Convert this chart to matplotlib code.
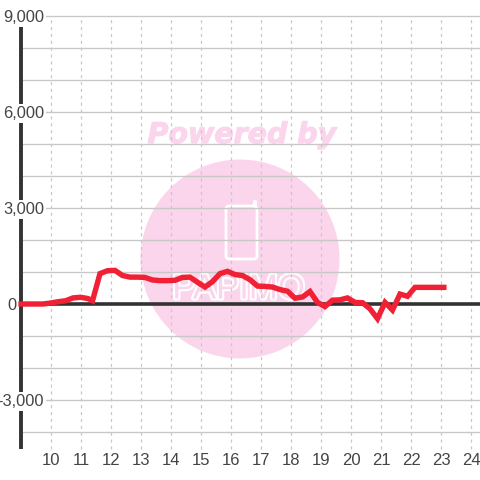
import numpy as np
import matplotlib
matplotlib.use("Agg")
import matplotlib.pyplot as plt
import matplotlib.patheffects as pe
from matplotlib.patches import Circle, FancyBboxPatch

# hours and values
hours = [8.93, 9.5, 9.75, 10.0, 10.25, 10.5, 10.75, 11.0, 11.25, 11.4, 11.65, 11.9, 12.15, 12.4, 12.65, 12.9,
         13.15, 13.4, 13.65, 13.9, 14.15, 14.4, 14.65, 14.9, 15.15, 15.4, 15.65, 15.9, 16.15, 16.4, 16.65, 16.9,
         17.15, 17.4, 17.65, 17.9, 18.15, 18.4, 18.65, 18.9, 19.15, 19.4, 19.65, 19.9, 20.15, 20.4, 20.65, 20.9,
         21.15, 21.4, 21.65, 21.9, 22.15, 22.4, 22.65, 22.9, 23.2]
values = [0, 0, 0, 30, 70, 100, 190, 210, 170, 100, 950, 1040, 1050, 890, 840, 840,
          830, 750, 730, 730, 740, 830, 840, 680, 530, 700, 950, 1020, 920, 890, 760, 560,
          550, 530, 450, 400, 180, 220, 390, 50, -80, 120, 130, 190, 50, 40, -150, -460,
          50, -190, 310, 240, 520, 520, 520, 520, 520]
ylabel_vals = [-3000, 3000, 6000, 9000]
ylabels = ["-3,000", "3,000", "6,000", "9,000"]
xticks = list(range(10, 25))

text_col = "#444444"
grid_col = "#c8c8c8"
axis_col = "#333333"
wm = "#fbd5ec"

fig = plt.figure(figsize=(4.8, 4.8), dpi=100)

# watermark sits under the chart, in pixel coords
wm_ax = fig.add_axes([0, 0, 1, 1], zorder=0)
wm_ax.set_xlim(0, 480)
wm_ax.set_ylim(480, 0)
wm_ax.axis("off")
wm_ax.add_patch(Circle((240, 259), 99.5, fc=wm, ec="none"))
wm_ax.add_patch(FancyBboxPatch((229, 209), 25, 47, boxstyle="round,pad=3", fc="none", ec="white", lw=2))
wm_ax.plot([254.5, 254.5], [207, 202], color="white", lw=3, solid_capstyle="round")
wm_ax.text(242, 135, "Powered by", color=wm, fontsize=20.5, fontweight="bold", fontstyle="italic",
           family="DejaVu Sans", ha="center", va="center",
           path_effects=[pe.withStroke(linewidth=0.8, foreground=wm)])
wm_ax.text(238.5, 289, "PAPIMO", color=wm, fontsize=25, family="Liberation Sans", ha="center", va="center",
           path_effects=[pe.withStroke(linewidth=3, foreground="white")])

ax = fig.add_axes([0, 0, 1, 1], zorder=1)
ax.patch.set_visible(False)
# x 10 -> 50.5px, 30px per hour; y 0 -> 304px, 32px per 1000
ax.set_xlim(10 - 50.5 / 30, 10 + (480 - 50.5) / 30)
ax.set_ylim(-(480 - 304) / 32 * 1000, 304 / 32 * 1000)
ax.axis("off")
xmax = ax.get_xlim()[1]
xleft = 9.0
ybot = -4530
xlab = 9.78   # right edge of the y labels
nudge = -50   # labels sit a touch under their gridline

# grid
for v in np.arange(-4000, 10000, 1000):
    ax.plot([xleft, xmax], [v, v], color=grid_col, lw=1, zorder=2)
for h in xticks:
    ax.plot([h, h], [ybot, 9000], color=grid_col, lw=0.9, ls=(0, (2.5, 3)), zorder=2)

# axes
ax.plot([xleft, xleft], [ybot, 9000], color=axis_col, lw=2.8, solid_capstyle="butt", zorder=3)
ax.plot([xleft, xmax], [0, 0], color=axis_col, lw=2.6, solid_capstyle="butt", zorder=3)

for v, lab in zip(ylabel_vals, ylabels):
    ax.text(xlab, v + nudge, lab, ha="right", va="center", fontsize=11.8, color=text_col, family="Liberation Sans",
            zorder=4, bbox=dict(fc="white", ec="none", pad=1.5))
ax.text(8.87, nudge, "0", ha="right", va="center", fontsize=11.8, color=text_col, family="Liberation Sans", zorder=4)
for h in xticks:
    ax.text(h + 0.02, -4900, str(h), ha="center", va="center", fontsize=12, color=text_col,
            family="Liberation Sans", zorder=4)

# series
ax.plot(hours, values, color="#f02035", lw=3.9, solid_joinstyle="miter", solid_capstyle="butt", zorder=5)

fig.savefig("out.png", dpi=100)
